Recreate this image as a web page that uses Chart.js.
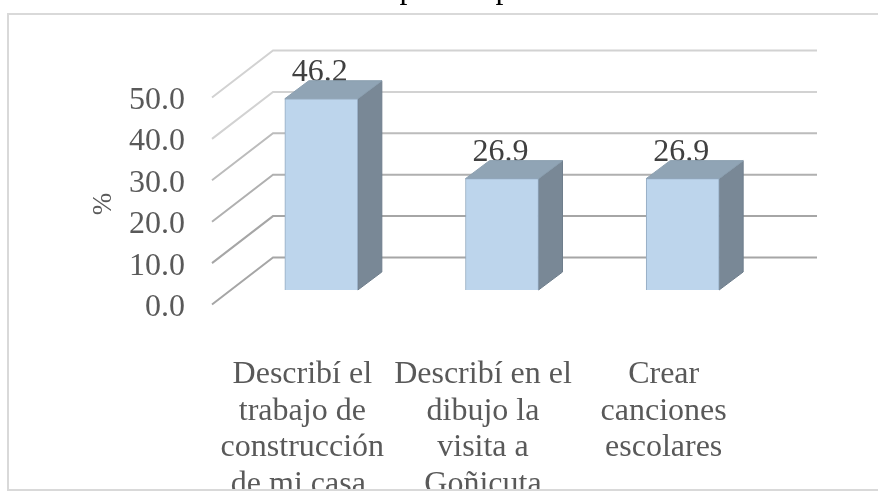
<!DOCTYPE html>
<html>
<head>
<meta charset="utf-8">
<style>
html,body{margin:0;padding:0;background:#fff;overflow:hidden}
#w{position:absolute;left:0;top:0;width:878px;height:491px}
</style>
<script src="https://cdn.jsdelivr.net/npm/chart.js@4"></script>
</head>
<body>
<div id="w"><canvas id="c" width="878" height="491"></canvas></div>
<script>
const categoryLines = [
  ['Describí el', 'trabajo de', 'construcción', 'de mi casa.'],
  ['Describí en el', 'dibujo la', 'visita a', 'Goñicuta'],
  ['Crear', 'canciones', 'escolares']
];
const values = [46.2, 26.9, 26.9];
const valueLabels = ['46.2', '26.9', '26.9'];
const yTicks = [0, 10, 20, 30, 40, 50];
const gridColors = ['#a6a6a6', '#a6a6a6', '#b0b0b0', '#bcbcbc', '#d2d2d2', '#d2d2d2'];
const titleFragments = ['p', 'p'];
const yTitle = '%';

const FONT = '"Liberation Serif","Times New Roman",serif';
const barShift = {x: 19, y: -17.5};
const gridShiftY = -3;
const wallDepth = {x: 61, y: -47};
const barDepth = {x: 24, y: -18};

const scene3d = {
  id: 'scene3d',
  beforeDatasetsDraw(chart) {
    const {ctx, scales} = chart;
    const y = scales.y, x = scales.x;
    ctx.save();
    ctx.lineCap = 'butt';
    yTicks.forEach((t, i) => {
      const py = y.getPixelForValue(t) + gridShiftY;
      ctx.strokeStyle = gridColors[i];
      ctx.lineWidth = 2;
      ctx.beginPath();
      ctx.moveTo(x.left, py);
      ctx.lineTo(x.left + wallDepth.x, py + wallDepth.y);
      ctx.lineTo(x.right + wallDepth.x + 2, py + wallDepth.y);
      ctx.stroke();
    });
    ctx.restore();
    // data labels lie behind the top face of each bar
    const meta = chart.getDatasetMeta(0);
    ctx.save();
    ctx.font = '32px ' + FONT;
    ctx.fillStyle = '#404040';
    ctx.textAlign = 'center';
    ctx.textBaseline = 'alphabetic';
    meta.data.forEach((el, i) => {
      ctx.fillText(valueLabels[i], el.x + barShift.x - 1.5, el.y + barShift.y - 18);
    });
    ctx.restore();
    // side and top faces
    ctx.save();
    ctx.translate(barShift.x, barShift.y);
    meta.data.forEach(el => {
      const l = el.x - el.width / 2, r = el.x + el.width / 2, t = el.y, b = el.base;
      const dx = barDepth.x, dy = barDepth.y;
      ctx.lineWidth = 1;
      ctx.fillStyle = '#798896';
      ctx.strokeStyle = '#6f7e8c';
      ctx.beginPath();
      ctx.moveTo(r, t); ctx.lineTo(r + dx, t + dy); ctx.lineTo(r + dx, b + dy); ctx.lineTo(r, b);
      ctx.closePath(); ctx.fill(); ctx.stroke();
      ctx.fillStyle = '#90a4b5';
      ctx.strokeStyle = '#8a9eaf';
      ctx.beginPath();
      ctx.moveTo(l, t); ctx.lineTo(l + dx, t + dy); ctx.lineTo(r + dx, t + dy); ctx.lineTo(r, t);
      ctx.closePath(); ctx.fill(); ctx.stroke();
    });
    // front faces are drawn by the library inside this translation
  },
  afterDatasetsDraw(chart) {
    chart.ctx.restore();
  },
  afterDraw(chart) {
    const {ctx, width, height} = chart;
    ctx.save();
    ctx.fillStyle = '#ffffff';
    ctx.fillRect(0, 489, width, height - 489);
    ctx.fillStyle = '#d9d9d9';
    ctx.fillRect(7, 13, width - 7, 2);
    ctx.fillRect(7, 13, 2, 477);
    ctx.fillRect(7, 489, width - 7, 2);
    ctx.fillStyle = '#000';
    ctx.font = '32px ' + FONT;
    ctx.textAlign = 'center';
    ctx.textBaseline = 'alphabetic';
    ctx.fillText(titleFragments[0], 407.5, -2);
    ctx.fillText(titleFragments[1], 503.5, -2);
    ctx.restore();
  }
};

new Chart(document.getElementById('c'), {
  type: 'bar',
  data: {
    labels: categoryLines,
    datasets: [{
      data: values,
      backgroundColor: '#bdd5ec',
      borderColor: '#94abc1',
      borderWidth: 1,
      barThickness: 73
    }]
  },
  plugins: [scene3d],
  options: {
    responsive: false,
    animation: false,
    layout: {padding: {left: 88, right: 124, top: 100.5, bottom: 0}},
    plugins: {legend: {display: false}, title: {display: false}, tooltip: {enabled: false}},
    scales: {
      x: {
        grid: {display: false},
        border: {display: false},
        afterFit(s) { s.height = 491 - 307.5; },
        ticks: {
          autoSkip: false,
          maxRotation: 0,
          minRotation: 0,
          padding: 40.5,
          color: '#595959',
          font: {family: FONT, size: 32, lineHeight: 1.15}
        }
      },
      y: {
        min: 0,
        max: 50,
        grid: {display: false, drawTicks: false},
        border: {display: false},
        afterBuildTicks(s) { s.ticks = yTicks.map(v => ({value: v})); },
        afterFit(s) { s.width = 124; },
        title: {
          display: true,
          text: yTitle,
          color: '#595959',
          padding: {top: 0, bottom: 0},
          font: {family: FONT, size: 27}
        },
        ticks: {
          padding: 27,
          color: '#595959',
          font: {family: FONT, size: 32},
          callback(v) { return Number(v).toFixed(1); }
        }
      }
    }
  }
});
</script>
</body>
</html>
